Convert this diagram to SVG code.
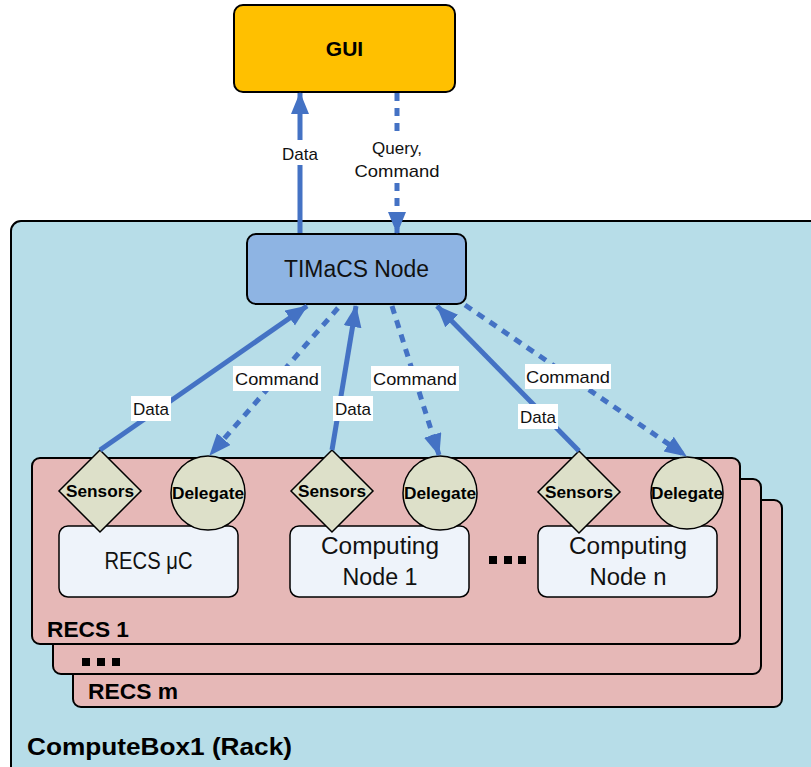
<svg xmlns="http://www.w3.org/2000/svg" width="811" height="767" viewBox="0 0 811 767">
<defs>
<marker id="ah" markerUnits="userSpaceOnUse" markerWidth="24" markerHeight="20" refX="21" refY="9" orient="auto">
<path d="M0,0 L22,9 L0,18 Z" fill="#4472C4"/>
</marker>
<style>
.box{stroke:#000;stroke-width:2}
.con{stroke:#4472C4;stroke-width:5;fill:none}
.dash{stroke-dasharray:8 7}
.lblbg{fill:#fff}
.lbl{font-family:"Liberation Sans",Arial,sans-serif;font-size:17px;fill:#111;text-anchor:middle}
.bold{font-family:"Liberation Sans",Arial,sans-serif;font-weight:bold;fill:#000}
.node{font-family:"Liberation Sans",Arial,sans-serif;font-size:23.5px;fill:#111;text-anchor:middle}
.sd{font-family:"Liberation Sans",Arial,sans-serif;font-weight:bold;font-size:17px;fill:#000;text-anchor:middle}
.dg{fill:#DDE0C9;stroke:#000;stroke-width:1.5}
.rec{fill:#E6B8B7;stroke:#000;stroke-width:2}
.inner{fill:#EEF3FA;stroke:#000;stroke-width:1.5}
</style>
</defs>

<g id="computebox">
<rect x="11" y="221" width="820" height="570" rx="10" fill="#B7DDE8" class="box"/>
<text x="27" y="755" class="bold" font-size="23" textLength="265" lengthAdjust="spacingAndGlyphs">ComputeBox1 (Rack)</text>
</g>

<g id="gui">
<rect x="234" y="5" width="221" height="87" rx="9" fill="#FFC000" class="box"/>
<text x="344.5" y="56" class="bold" font-size="21" text-anchor="middle">GUI</text>
</g>

<g id="timacs">
<rect x="247" y="234" width="219" height="70" rx="9" fill="#8EB4E3" class="box"/>
<text x="356.5" y="277" class="node" textLength="145" lengthAdjust="spacingAndGlyphs">TIMaCS Node</text>
</g>

<g id="recs-m">
<rect x="73" y="500" width="709" height="207" rx="8" class="rec"/>
<text x="88" y="699" class="bold" font-size="22" textLength="90" lengthAdjust="spacingAndGlyphs">RECS m</text>
</g>
<g id="recs-mid">
<rect x="53" y="479" width="708" height="195" rx="8" class="rec"/>
<rect x="82" y="658" width="8" height="8" fill="#000"/>
<rect x="97" y="658" width="8" height="8" fill="#000"/>
<rect x="112" y="658" width="8" height="8" fill="#000"/>
</g>
<g id="recs-1">
<rect x="32" y="458" width="708" height="186" rx="8" class="rec"/>
<text x="47" y="637" class="bold" font-size="22" textLength="82" lengthAdjust="spacingAndGlyphs">RECS 1</text>
<rect x="489" y="556" width="8" height="8" fill="#000"/>
<rect x="504" y="556" width="8" height="8" fill="#000"/>
<rect x="518" y="556" width="8" height="8" fill="#000"/>
</g>

<g id="recs-uc">
<rect x="59" y="526" width="179" height="71" rx="9" class="inner"/>
<text x="148.5" y="569" class="node" textLength="88" lengthAdjust="spacingAndGlyphs">RECS μC</text>
</g>
<g id="node1">
<rect x="290" y="526" width="179" height="71" rx="9" class="inner"/>
<text x="380" y="554" class="node" textLength="118" lengthAdjust="spacingAndGlyphs">Computing</text>
<text x="380" y="585" class="node" textLength="75" lengthAdjust="spacingAndGlyphs">Node 1</text>
</g>
<g id="noden">
<rect x="538" y="526" width="179" height="71" rx="9" class="inner"/>
<text x="628" y="554" class="node" textLength="118" lengthAdjust="spacingAndGlyphs">Computing</text>
<text x="628" y="585" class="node" textLength="77" lengthAdjust="spacingAndGlyphs">Node n</text>
</g>

<g id="sensors1">
<polygon points="100,450 141,491 100,532 59,491" class="dg"/>
<text x="100" y="497" class="sd" textLength="68" lengthAdjust="spacingAndGlyphs">Sensors</text>
</g>
<g id="delegate1">
<circle cx="208" cy="493" r="37" class="dg"/>
<text x="208" y="499" class="sd" textLength="72" lengthAdjust="spacingAndGlyphs">Delegate</text>
</g>
<g id="sensors2">
<polygon points="332,450 373,491 332,532 291,491" class="dg"/>
<text x="332" y="497" class="sd" textLength="68" lengthAdjust="spacingAndGlyphs">Sensors</text>
</g>
<g id="delegate2">
<circle cx="440" cy="493" r="37" class="dg"/>
<text x="440" y="499" class="sd" textLength="72" lengthAdjust="spacingAndGlyphs">Delegate</text>
</g>
<g id="sensors3">
<polygon points="579,451 620,492 579,533 538,492" class="dg"/>
<text x="579" y="498" class="sd" textLength="68" lengthAdjust="spacingAndGlyphs">Sensors</text>
</g>
<g id="delegate3">
<circle cx="687" cy="493" r="36" class="dg"/>
<text x="687" y="499" class="sd" textLength="72" lengthAdjust="spacingAndGlyphs">Delegate</text>
</g>

<g id="connectors">
<line x1="300" y1="233" x2="300" y2="93" class="con" marker-end="url(#ah)"/>
<line x1="397" y1="93" x2="397" y2="233" class="con dash" marker-end="url(#ah)"/>
<line x1="100" y1="450" x2="307" y2="306" class="con" marker-end="url(#ah)"/>
<line x1="338" y1="308" x2="210" y2="455" class="con dash" marker-end="url(#ah)"/>
<line x1="332" y1="450" x2="356" y2="306" class="con" marker-end="url(#ah)"/>
<line x1="392" y1="306" x2="439" y2="455" class="con dash" marker-end="url(#ah)"/>
<line x1="579" y1="451" x2="437" y2="306" class="con" marker-end="url(#ah)"/>
<line x1="465" y1="305" x2="686" y2="456" class="con dash" marker-end="url(#ah)"/>

<rect x="279" y="140" width="43" height="25" class="lblbg"/>
<text x="300" y="160" class="lbl">Data</text>
<rect x="352" y="136" width="90" height="46" class="lblbg"/>
<text x="397" y="154" class="lbl">Query,</text>
<text x="397" y="177" class="lbl" textLength="85" lengthAdjust="spacingAndGlyphs">Command</text>

<rect x="131" y="396" width="40" height="25" class="lblbg"/>
<text x="151" y="415" class="lbl">Data</text>
<rect x="233" y="366" width="88" height="25" class="lblbg"/>
<text x="277" y="385" class="lbl" textLength="84" lengthAdjust="spacingAndGlyphs">Command</text>
<rect x="333" y="396" width="40" height="25" class="lblbg"/>
<text x="353" y="415" class="lbl">Data</text>
<rect x="371" y="366" width="88" height="25" class="lblbg"/>
<text x="415" y="385" class="lbl" textLength="84" lengthAdjust="spacingAndGlyphs">Command</text>
<rect x="518" y="404" width="40" height="25" class="lblbg"/>
<text x="538" y="423" class="lbl">Data</text>
<rect x="525" y="364" width="86" height="25" class="lblbg"/>
<text x="568" y="383" class="lbl" textLength="84" lengthAdjust="spacingAndGlyphs">Command</text>
</g>
</svg>
